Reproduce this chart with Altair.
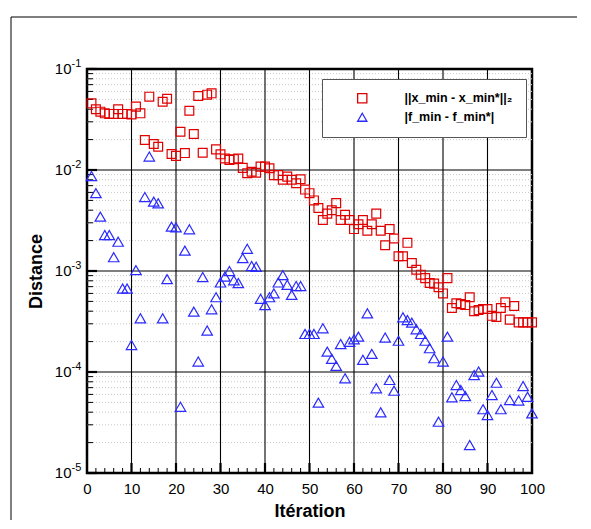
import altair as alt
import pandas as pd

# ---------------- data ----------------
iter_x = list(range(1, 101))
dist_x = [0.0457, 0.0399, 0.0378, 0.0364, 0.0359, 0.0359, 0.0399, 0.0359, 0.0359, 0.0355,
          0.0424, 0.0364, 0.0198, 0.0532, 0.0181, 0.0170, 0.0474, 0.0508, 0.0144, 0.0138,
          0.0239, 0.0147, 0.0386, 0.0227, 0.0541, 0.0148, 0.0557, 0.0574, 0.0160, 0.0143,
          0.0130, 0.0126, 0.0128, 0.0130, 0.0105, 0.0093, 0.0096, 0.0094, 0.0108, 0.0108,
          0.0104, 0.0089, 0.0089, 0.0080, 0.0086, 0.0080, 0.0074, 0.0081, 0.0064, 0.0059,
          0.0050, 0.0042, 0.0032, 0.0037, 0.0040, 0.0047, 0.0032, 0.0036, 0.0032, 0.0026,
          0.0029, 0.0032, 0.0025, 0.0029, 0.0037, 0.0025, 0.0018, 0.0026, 0.0021, 0.0014,
          0.0014, 0.0019, 0.0012, 0.00103, 0.00092, 0.00085, 0.00076, 0.00075, 0.00069, 0.00060,
          0.00085, 0.00043, 0.00048, 0.00047, 0.00046, 0.00055, 0.00040, 0.00041, 0.00042, 0.00042,
          0.00036, 0.00035, 0.00043, 0.00049, 0.00033, 0.00045, 0.00031, 0.00031, 0.00031, 0.00031]

iter_f = [1, 2, 3, 4, 5, 6, 7, 8, 9, 10,
          11, 12, 13, 14, 15, 16, 17, 18, 19, 20,
          21, 22, 23, 24, 25, 26, 27, 28, 29, 30,
          31, 32, 33, 34, 35, 36, 37, 38, 39, 40,
          41, 42, 43, 44, 45, 46, 47, 48, 49, 50,
          51, 52, 53, 54, 55, 56, 57, 58, 59, 60,
          61, 62, 63, 64, 65, 66, 67, 68, 69, 70,
          71, 72, 73, 74, 75, 76, 77, 78, 79, 80,
          81, 82, 83, 84, 85, 86, 87, 88, 89, 90,
          91, 92, 93, 95, 97, 98, 99, 100]
dist_f = [0.0087, 0.0059, 0.00345, 0.00227, 0.00227, 0.00137, 0.00195, 0.00067, 0.00067, 0.000185,
          0.00102, 0.00034, 0.0054, 0.0136, 0.00486, 0.00468, 0.00034, 0.00083, 0.00275, 0.00270,
          0.0000453, 0.00159, 0.00259, 0.000396, 0.000127, 0.00087, 0.000257, 0.000418, 0.00055, 0.00077,
          0.00088, 0.00100, 0.00081, 0.00076, 0.00134, 0.00166, 0.00112, 0.00110, 0.00053, 0.00046,
          0.00055, 0.00060, 0.00077, 0.00091, 0.00073, 0.00058, 0.00071, 0.00071, 0.000238, 0.000238,
          0.000238, 0.0000497, 0.000271, 0.000159, 0.000135, 0.000115, 0.000189, 0.0000867, 0.000199, 0.000211,
          0.000224, 0.000132, 0.000381, 0.000151, 0.0000690, 0.0000399, 0.000219, 0.0000834, 0.0000653, 0.000204,
          0.000348, 0.000327, 0.000308, 0.000265, 0.000238, 0.000204, 0.000172, 0.000137, 0.0000322, 0.000127,
          0.000224, 0.0000561, 0.0000743, 0.0000663, 0.0000578, 0.0000189, 0.0000933, 0.000101, 0.0000428, 0.0000375,
          0.0000592, 0.0000783, 0.0000428, 0.0000528, 0.0000522, 0.0000726, 0.0000568, 0.0000389]

series_names = ["||x_min - x_min*||\u2082", "|f_min - f_min*|"]
series_colors = ["#e00000", "#2a2aff"]
series_shapes = ["square", "triangle-up"]

x_label_values = [0, 10, 20, 30, 40, 50, 60, 70, 80, 90, 100]
y_decades = [1e-5, 1e-4, 1e-3, 1e-2, 1e-1]
y_exponents = ["-5", "-4", "-3", "-2", "-1"]
minor_y = [m * d for d in [1e-5, 1e-4, 1e-3, 1e-2] for m in range(2, 10)]
minor_x = [v for v in range(2, 100, 2) if v % 10]
major_x = [10, 20, 30, 40, 50, 60, 70, 80, 90]

# ---------------- build ----------------
W, H = 445, 404
FONT = "Liberation Sans"

df_x = pd.DataFrame({"it": iter_x, "d": dist_x, "s": series_names[0]})
df_f = pd.DataFrame({"it": iter_f, "d": dist_f, "s": series_names[1]})

xscale = alt.Scale(domain=[0, 100], nice=False, zero=False)
yscale = alt.Scale(type="log", domain=[1e-5, 1e-1], nice=False)

xaxis = alt.Axis(values=x_label_values, labels=True, ticks=False, domain=False, grid=False,
                 labelFontSize=15, labelFont=FONT, labelColor="black", labelPadding=8,
                 labelFlush=False, title="Itération", titleFont=FONT, titleFontSize=18,
                 titleFontWeight="bold", titleColor="black", titleY=43,
                 titleBaseline="alphabetic")
yaxis = alt.Axis(labels=False, ticks=False, domain=False, grid=False,
                 title="Distance", titleFont=FONT, titleFontSize=18, titleFontWeight="bold",
                 titleColor="black", titleX=-46, titleY=H / 2, titleBaseline="alphabetic")

X = lambda f: alt.X(f, type="quantitative", scale=xscale, axis=xaxis)
Y = lambda f: alt.Y(f, type="quantitative", scale=yscale, axis=yaxis)

minor_grid = alt.Chart(pd.DataFrame({"v": minor_y})).mark_rule(
    color="#c8c8c8", strokeDash=[1, 2], strokeWidth=1).encode(y=Y("v"))
major_hgrid = alt.Chart(pd.DataFrame({"v": y_decades[1:-1]})).mark_rule(
    color="black", strokeWidth=1.2).encode(y=Y("v"))
major_vgrid = alt.Chart(pd.DataFrame({"t": major_x})).mark_rule(
    color="black", strokeWidth=1.1).encode(x=X("t"))

x_minor_ticks = alt.Chart(pd.DataFrame({"t": minor_x})).mark_rule(
    color="black", strokeWidth=1).encode(x=X("t"), y=alt.value(H), y2=alt.value(H - 5))
x_major_ticks = alt.Chart(pd.DataFrame({"t": major_x})).mark_rule(
    color="black", strokeWidth=2.2).encode(x=X("t"), y=alt.value(H), y2=alt.value(H - 10))
y_minor_ticks = alt.Chart(pd.DataFrame({"v": minor_y})).mark_rule(
    color="black", strokeWidth=1).encode(y=Y("v"), x=alt.value(0), x2=alt.value(6))
y_major_ticks = alt.Chart(pd.DataFrame({"v": y_decades})).mark_rule(
    color="black", strokeWidth=2.2).encode(y=Y("v"), x=alt.value(0), x2=alt.value(10))

lab_df = pd.DataFrame({"v": y_decades, "b": ["10"] * 5, "e": y_exponents})
y_lab_base = alt.Chart(lab_df).mark_text(
    align="right", baseline="alphabetic", dy=5, fontSize=15, font=FONT, color="black"
).encode(y=Y("v"), x=alt.value(-15.5), text="b:N")
y_lab_exp = alt.Chart(lab_df).mark_text(
    align="left", baseline="alphabetic", dy=-2, fontSize=11, font=FONT, color="black"
).encode(y=Y("v"), x=alt.value(-15.5), text="e:N")

frame_left = alt.Chart(pd.DataFrame({"a": [0]})).mark_rule(color="black", strokeWidth=1).encode(
    x=alt.value(-76), y=alt.value(-52), y2=alt.value(H + 47))
frame_top = alt.Chart(pd.DataFrame({"a": [0]})).mark_rule(color="black", strokeWidth=1).encode(
    x=alt.value(-76), x2=alt.value(W + 45), y=alt.value(-52))

color_enc = alt.Color("s:N", scale=alt.Scale(domain=series_names, range=series_colors), title=None)
shape_enc = alt.Shape("s:N", scale=alt.Scale(domain=series_names, range=series_shapes), title=None)

pts_f = alt.Chart(df_f).mark_point(filled=False, strokeWidth=1.2, opacity=1, size=110).encode(
    x=X("it"), y=Y("d"), color=color_enc, shape=shape_enc)
pts_x = alt.Chart(df_x).mark_point(filled=False, strokeWidth=1.2, opacity=1, size=78).encode(
    x=X("it"), y=Y("d"), color=color_enc, shape=shape_enc)

chart = alt.layer(
    minor_grid, major_hgrid, major_vgrid,
    x_minor_ticks, x_major_ticks, y_minor_ticks, y_major_ticks,
    y_lab_base, y_lab_exp, frame_left, frame_top, pts_f, pts_x,
).properties(
    width=W, height=H,
    padding={"left": 79, "top": 61, "right": 45, "bottom": 47},
    autosize=alt.AutoSizeParams(type="none"),
    background="white",
).configure_view(
    stroke="black", strokeWidth=2.5
).configure_legend(
    orient="none", legendX=235, legendY=10,
    padding=13, fillColor="white", strokeColor="#555", strokeWidth=1,
    labelFont=FONT, labelFontSize=12.5, labelFontWeight="bold", labelColor="black",
    symbolSize=85, symbolStrokeWidth=1.3, symbolOffset=21, labelOffset=36,
    rowPadding=4, labelLimit=300,
)

chart.save("out.html", embed_options={"renderer": "svg", "actions": False})
